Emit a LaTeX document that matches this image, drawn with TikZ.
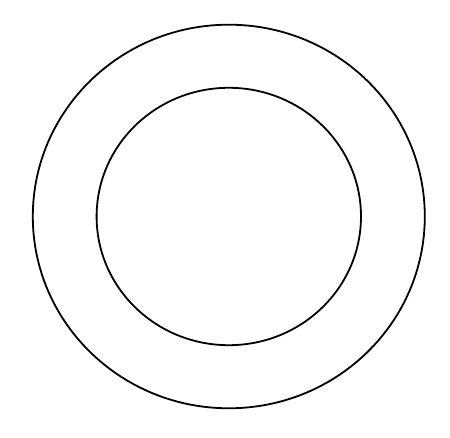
\documentclass[tikz,border=0pt]{standalone}
\begin{document}
\begin{tikzpicture}[x=1pt,y=1pt,ring/.style={draw=black,line width=1.8pt}]
\useasboundingbox[fill=white] (0,0) rectangle (450,438);
\coordinate (c) at (228.8,221.5);
\draw[ring] (c) ellipse [x radius=196, y radius=191.8];
\draw[ring] (c) ellipse [x radius=132.2, y radius=128.7];
\end{tikzpicture}
\end{document}
